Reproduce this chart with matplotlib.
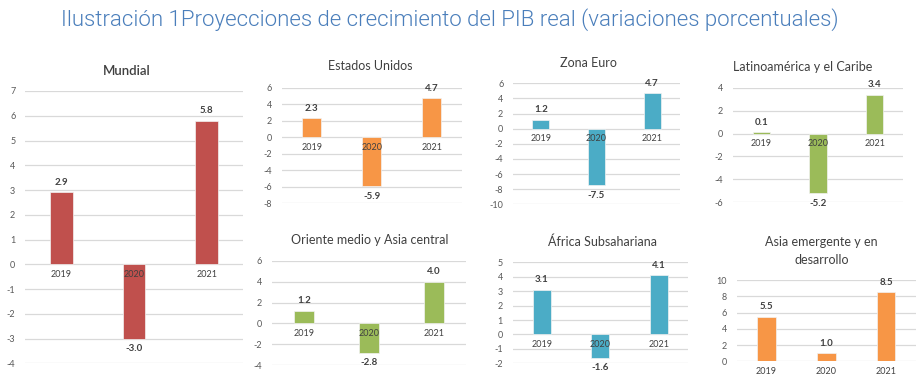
import numpy as np
from matplotlib import pyplot as plt

plt.rcParams['font.family'] = ['Lato', 'DejaVu Sans']

anni = ["2019", "2020", "2021"]

mundial = [2.9, -3.0, 5.8]
estados_unidos = [2.3, -5.9, 4.7]
zona_euro = [1.2, -7.5, 4.7]
latinoamerica = [0.1, -5.2, 3.4]
oriente_medio = [1.2, -2.8, 4.0]
africa = [3.1, -1.6, 4.1]
asia = [5.5, 1.0, 8.5]

ROSSO = "#C0504D"
ARANCIO = "#F79646"
AZZURRO = "#4BACC6"
VERDE = "#9BBB59"

W, H = 920, 384
fig = plt.figure(figsize=(W / 100, H / 100), dpi=100)

def assi_pixel(x0, x1, ytop, ybot):
    return fig.add_axes([x0 / W, 1 - ybot / H, (x1 - x0) / W, (ybot - ytop) / H])

def pannello(valori, colore, titolo, box, ylim, passo, pos_titolo, fs_titolo=9, peso="normal"):
    ax = assi_pixel(*box)
    x = np.arange(len(anni))
    ax.bar(x, valori, width=0.31, color=colore, edgecolor="#F2F2F2", linewidth=0.5, zorder=3)
    ax.set_xlim(-0.5, 2.5)
    ax.set_ylim(*ylim)
    ticks = np.arange(ylim[0], ylim[1] + passo / 2, passo)
    ax.set_yticks(ticks)
    ax.set_yticklabels([str(int(v)) for v in ticks])
    ax.tick_params(axis="y", length=0, labelsize=6.5, labelcolor="#595959", pad=7)
    ax.set_xticks([])
    for s in ax.spines.values():
        s.set_visible(False)
    ax.grid(axis="y", color="#D9D9D9", linewidth=0.9, zorder=0)
    ax.set_facecolor("none")
    for xi, v, a in zip(x, valori, anni):
        # etichetta del valore
        if v >= 0:
            ax.annotate(f"{v:.1f}", (xi, v), xytext=(0, 4), textcoords="offset points",
                        ha="center", va="bottom", fontsize=7, fontweight="bold", color="#404040")
        else:
            ax.annotate(f"{v:.1f}", (xi, v), xytext=(0, -4), textcoords="offset points",
                        ha="center", va="top", fontsize=7, fontweight="bold", color="#404040")
        # anno sotto l'asse dello zero
        ax.annotate(a, (xi, 0), xytext=(0, -4), textcoords="offset points",
                    ha="center", va="top", fontsize=6.5, color="#404040", zorder=5)
    fig.text(pos_titolo[0] / W, 1 - pos_titolo[1] / H, titolo, ha="center", va="center",
             fontsize=fs_titolo, color="#404040", fontweight=peso, linespacing=1.5)
    return ax

pannello(mundial, ROSSO, "Mundial", (25, 243, 91, 363.3), (-4, 7), 1, (127, 71), 9.5, "semibold")
pannello(estados_unidos, ARANCIO, "Estados Unidos", (281.7, 461.7, 87.7, 203.3), (-8, 6), 2, (370, 66))
pannello(zona_euro, AZZURRO, "Zona Euro", (513, 680, 83.3, 204.3), (-10, 6), 2, (588, 62.7))
pannello(latinoamerica, VERDE, "Latinoamérica y el Caribe", (733, 903, 87.7, 202.3), (-6, 4), 2, (803, 66.7))
pannello(oriente_medio, VERDE, "Oriente medio y Asia central", (271.7, 466, 260.7, 365.3), (-4, 6), 2, (370, 240))
pannello(africa, AZZURRO, "África Subsahariana", (512.7, 688, 262.3, 363.3), (-2, 5), 1, (603, 241.7))
pannello(asia, ARANCIO, "Asia emergente y en\ndesarrollo", (736.7, 916, 280, 361.3), (0, 10), 2, (821.7, 251))

fig.text(450 / W, 1 - 20 / H, "Ilustración 1Proyecciones de crecimiento del PIB real (variaciones porcentuales)",
         ha="center", va="center", fontsize=16, color="#4A7EBB", fontweight=300,
         family=["Roboto", "DejaVu Sans"])

fig.savefig("out.png", dpi=100)
